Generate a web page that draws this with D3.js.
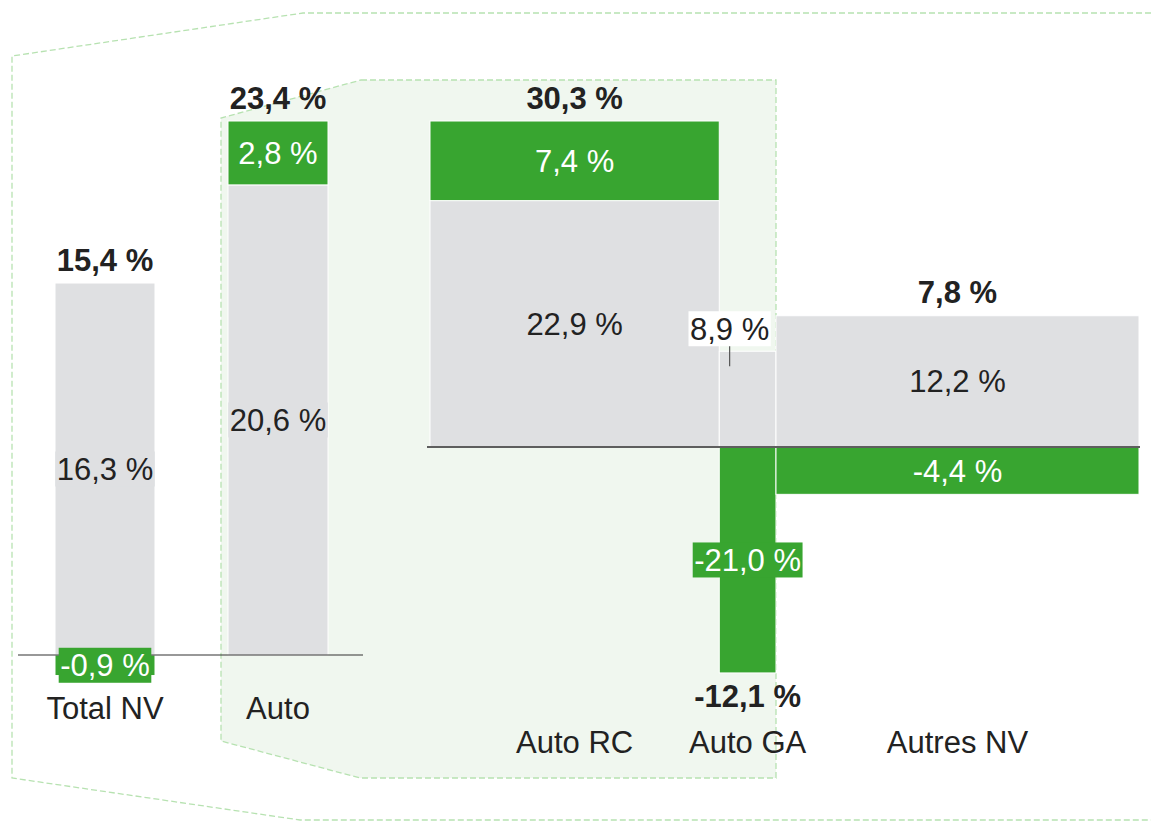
<!DOCTYPE html>
<html>
<head>
<meta charset="utf-8">
<script src="https://cdn.jsdelivr.net/npm/d3@7"></script>
<style>
  body { margin: 0; background: #fff; }
  svg { display: block; }
  text { font-family: "Liberation Sans", Arial, Helvetica, sans-serif; }
</style>
</head>
<body>
<svg id="chart" width="1151" height="822"></svg>
<script>
// Premium growth by line of business: base component (grey) and change component (green)
const leftCategories = ["Total NV", "Auto"];
const leftBase = [16.3, 20.6];
const leftChange = [-0.9, 2.8];
const leftTotal = [15.4, 23.4];

const rightCategories = ["Auto RC", "Auto GA", "Autres NV"];
const rightBase = [22.9, 8.9, 12.2];
const rightChange = [7.4, -21.0, -4.4];
const rightTotal = [30.3, -12.1, 7.8];
const rightShare = [40.8, 8.0, 51.2]; // share of Total NV premiums, sets column width

const GREY = "#dfe0e2";
const GREEN = "#38a530";
const INK = "#222222";
const PANEL = "#f0f7ef";
const DASH = "#b7e2b1";
const FONT = 31;

const fmt = v => d3.format(".1f")(v).replace("\u2212", "-").replace(".", ",") + " %";

const svg = d3.select("#chart");

// ---- scales ----
const topY = 121;
const leftZero = 655, rightZero = 447;

const xLeft = d3.scaleBand().domain(leftCategories).range([55, 328]).paddingInner(0.422).paddingOuter(0);
const leftMax = d3.max(leftBase.map((b, i) => b + Math.max(0, leftChange[i])));
const yLeft = d3.scaleLinear().domain([0, leftMax]).range([leftZero, topY]);

const xRight = d3.scaleLinear().domain([0, d3.sum(rightShare)]).range([430, 1139]);
const rightMax = d3.max(rightBase.map((b, i) => b + Math.max(0, rightChange[i])));
const yRight = d3.scaleLinear().domain([0, rightMax]).range([rightZero, topY]);

const cum = d3.cumsum(rightShare);

const bars = [
  ...leftCategories.map((c, i) => ({
    cat: c, x0: xLeft(c), x1: xLeft(c) + xLeft.bandwidth(),
    base: leftBase[i], change: leftChange[i], total: leftTotal[i], y: yLeft, catY: 719
  })),
  ...rightCategories.map((c, i) => ({
    cat: c, x0: xRight(cum[i] - rightShare[i]), x1: xRight(cum[i]),
    base: rightBase[i], change: rightChange[i], total: rightTotal[i], y: yRight, catY: 753
  }))
];

// ---- grouping outlines ----
const outer = [[1160, 13], [303, 13], [12, 56], [12, 778], [300, 820], [1160, 820]];
svg.append("path")
  .attr("d", d3.line()(outer))
  .attr("fill", "none").attr("stroke", DASH).attr("stroke-width", 1.3)
  .attr("stroke-dasharray", "6,3");

const autoX = xLeft("Auto") - 7;
const autoEnd = xRight(cum[1]);
const inner = [[361, 80], [autoEnd, 80], [autoEnd, 778], [360, 778], [autoX, 741], [autoX, 118]];
svg.append("path")
  .attr("d", d3.line()(inner) + "Z")
  .attr("fill", PANEL).attr("stroke", DASH).attr("stroke-width", 1.3)
  .attr("stroke-dasharray", "6,3");

// ---- segments ----
const segments = [];
bars.forEach(b => {
  segments.push({ bar: b, v0: 0, v1: b.base, value: b.base, color: GREY });
  if (b.change >= 0) segments.push({ bar: b, v0: b.base, v1: b.base + b.change, value: b.change, color: GREEN });
  else segments.push({ bar: b, v0: b.change, v1: 0, value: b.change, color: GREEN });
});

svg.append("g").selectAll("rect").data(segments).join("rect")
  .attr("x", d => d.bar.x0)
  .attr("width", d => d.bar.x1 - d.bar.x0)
  .attr("y", d => d.bar.y(d.v1))
  .attr("height", d => d.bar.y(d.v0) - d.bar.y(d.v1))
  .attr("fill", d => d.color)
  .attr("stroke", "#ffffff").attr("stroke-width", 1);

// ---- zero lines ----
svg.append("line")
  .attr("x1", 18).attr("x2", 363).attr("y1", yLeft(0)).attr("y2", yLeft(0))
  .attr("stroke", "#333").attr("stroke-width", 1.2);
svg.append("line")
  .attr("x1", 427).attr("x2", 1140).attr("y1", yRight(0)).attr("y2", yRight(0))
  .attr("stroke", "#5e5e5e").attr("stroke-width", 2);

// ---- segment labels ----
const labels = svg.append("g").attr("font-size", FONT);
const boxH = 35;

segments.forEach(s => {
  const b = s.bar;
  const cx = (b.x0 + b.x1) / 2;
  const yTop = b.y(s.v1), yBot = b.y(s.v0);
  const h = yBot - yTop;
  const w = b.x1 - b.x0;
  const onGreen = s.color === GREEN;

  const t = labels.append("text")
    .attr("text-anchor", "middle")
    .attr("fill", onGreen ? "#fff" : INK)
    .text(fmt(s.value));
  const tw = t.node().getComputedTextLength();

  if (!onGreen && tw > w) {
    // narrow column: label sits above with a leader line
    const lx = cx - 18;
    const boxBottom = yTop - 5;
    const cy = boxBottom - boxH / 2;
    t.attr("x", lx).attr("y", cy + FONT * 0.358);
    labels.insert("rect", () => t.node())
      .attr("x", lx - tw / 2 - 1.5).attr("y", boxBottom - boxH)
      .attr("width", tw + 3).attr("height", boxH)
      .attr("fill", "#fff");
    labels.append("line")
      .attr("x1", lx).attr("x2", lx).attr("y1", boxBottom).attr("y2", yTop + 15)
      .attr("stroke", "#555").attr("stroke-width", 1.2);
  } else {
    const cy = yTop + h / 2;
    t.attr("x", cx).attr("y", cy + FONT * 0.358);
    if (tw + 4 > w || h < boxH - 2) {
      labels.insert("rect", () => t.node())
        .attr("x", cx - tw / 2 - 1.5).attr("y", cy - boxH / 2)
        .attr("width", tw + 3).attr("height", boxH)
        .attr("fill", s.color);
    }
  }
});

// ---- totals ----
const totals = svg.append("g").attr("font-size", FONT).attr("font-weight", "bold").attr("fill", INK)
  .attr("text-anchor", "middle");
bars.forEach(b => {
  const cx = (b.x0 + b.x1) / 2;
  const top = b.y(b.base + Math.max(0, b.change));
  const bottom = b.y(Math.min(0, b.change));
  totals.append("text")
    .attr("x", cx)
    .attr("y", b.total >= 0 ? top - 12.5 : bottom + 34)
    .text(fmt(b.total));
});

// ---- category names ----
svg.append("g").attr("font-size", FONT).attr("fill", INK).attr("text-anchor", "middle")
  .selectAll("text").data(bars).join("text")
  .attr("x", d => (d.x0 + d.x1) / 2)
  .attr("y", d => d.catY)
  .text(d => d.cat);
</script>
</body>
</html>
